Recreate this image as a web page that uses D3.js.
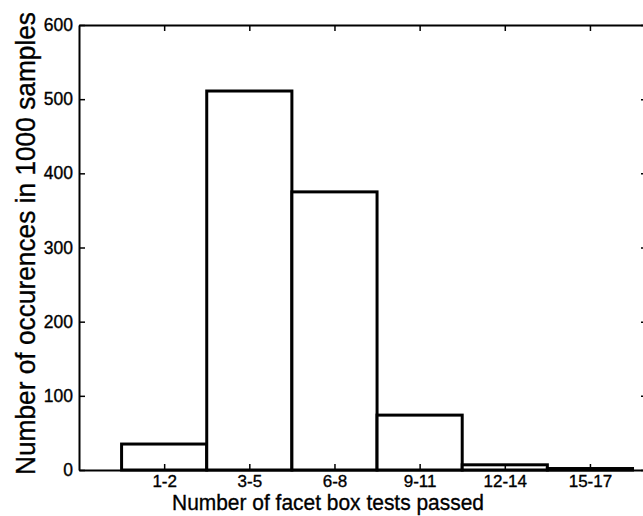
<!DOCTYPE html>
<html>
<head>
<meta charset="utf-8">
<script src="https://cdn.jsdelivr.net/npm/d3@7"></script>
<style>
  html, body { margin: 0; padding: 0; background: #fff; overflow: hidden; }
  svg { display: block; }
  text { font-family: Arial, "Liberation Sans", Helvetica, sans-serif; fill: #000; stroke: #000; stroke-width: 0.35px; }
</style>
</head>
<body>
<svg id="chart" width="643" height="516"></svg>
<script>
// histogram of facet box tests passed, 1000 samples
const categories = ["1-2", "3-5", "6-8", "9-11", "12-14", "15-17"];
const counts = [35, 511, 375, 74, 7, 2];
const yTicks = [0, 100, 200, 300, 400, 500, 600];

const m = { left: 79, top: 25, right: 647, bottom: 470 };

const svg = d3.select("#chart");

const x = d3.scaleLinear().domain([0, 6.67]).range([m.left, m.right]);
const y = d3.scaleLinear().domain([0, 600]).range([m.bottom, m.top]);
const idx = categories.map((_, i) => i + 1);

// bars
svg.append("g")
  .selectAll("rect")
  .data(counts)
  .join("rect")
  .attr("x", (d, i) => x(i + 0.5))
  .attr("width", x(1) - x(0))
  .attr("y", d => y(d))
  .attr("height", d => y(0) - y(d))
  .attr("fill", "#fff")
  .attr("stroke", "#000")
  .attr("stroke-width", 3);

// axes box with inward ticks
const tickLen = 6;
const fmtCat = d => categories[d - 1];

const gBottom = svg.append("g").attr("transform", `translate(0,${m.bottom})`)
  .call(d3.axisBottom(x).tickValues(idx).tickFormat(fmtCat).tickSizeInner(-tickLen).tickSizeOuter(0).tickPadding(5));
const gTop = svg.append("g").attr("transform", `translate(0,${m.top})`)
  .call(d3.axisTop(x).tickValues(idx).tickFormat("").tickSizeInner(-tickLen).tickSizeOuter(0));
const gLeft = svg.append("g").attr("transform", `translate(${m.left},0)`)
  .call(d3.axisLeft(y).tickValues(yTicks).tickFormat(d3.format("d")).tickSizeInner(-tickLen).tickSizeOuter(0).tickPadding(6));
const gRight = svg.append("g").attr("transform", `translate(${m.right},0)`)
  .call(d3.axisRight(y).tickValues(yTicks).tickFormat("").tickSizeInner(-tickLen).tickSizeOuter(0));

[gBottom, gTop, gLeft, gRight].forEach(g => {
  g.select(".domain").attr("stroke", "#000").attr("stroke-width", 2);
  g.selectAll(".tick line").attr("stroke", "#000").attr("stroke-width", 1.5);
});
gBottom.selectAll(".tick text").style("font-size", "17px");
gLeft.selectAll(".tick text").style("font-size", "17.5px");

// titles
svg.append("text")
  .attr("x", 328).attr("y", 510)
  .attr("text-anchor", "middle")
  .attr("textLength", 312).attr("lengthAdjust", "spacingAndGlyphs")
  .style("font-size", "22.5px")
  .text("Number of facet box tests passed");

svg.append("text")
  .attr("transform", "translate(35,243.5) rotate(-90)")
  .attr("text-anchor", "middle")
  .attr("textLength", 463).attr("lengthAdjust", "spacingAndGlyphs")
  .style("font-size", "27px")
  .text("Number of occurences in 1000 samples");
</script>
</body>
</html>
